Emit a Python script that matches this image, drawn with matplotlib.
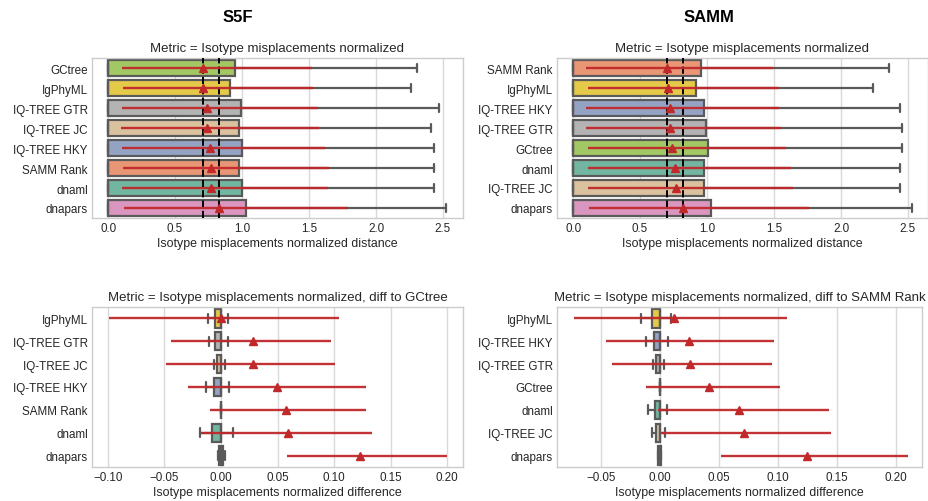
import matplotlib
matplotlib.use("Agg")
import matplotlib.pyplot as plt
import seaborn as sns
import numpy as np

sns.set_style("whitegrid")
plt.rcParams['font.family'] = ['Liberation Sans', 'DejaVu Sans']

# ---------------- data ----------------
palette = {
    "GCtree": "#a6d854", "IgPhyML": "#ffd92f", "IQ-TREE GTR": "#b3b3b3",
    "IQ-TREE JC": "#e5c494", "IQ-TREE HKY": "#8da0cb", "SAMM Rank": "#fc8d62",
    "dnaml": "#66c2a5", "dnapars": "#e78ac3",
}

# S5F distance
s5f_methods = ["GCtree", "IgPhyML", "IQ-TREE GTR", "IQ-TREE JC", "IQ-TREE HKY", "SAMM Rank", "dnaml", "dnapars"]
s5f_q1 = [0, 0, 0, 0, 0, 0, 0, 0]
s5f_med = [0, 0, 0, 0, 0, 0, 0, 0]
s5f_q3 = [0.95, 0.91, 0.995, 0.98, 1.0, 0.98, 1.0, 1.03]
s5f_whislo = [0, 0, 0, 0, 0, 0, 0, 0]
s5f_whishi = [2.31, 2.26, 2.47, 2.41, 2.43, 2.43, 2.43, 2.52]
s5f_mean = [0.71, 0.71, 0.74, 0.74, 0.76, 0.77, 0.77, 0.83]
s5f_lo = [0.107, 0.11, 0.107, 0.10, 0.107, 0.11, 0.107, 0.117]
s5f_hi = [1.52, 1.53, 1.57, 1.575, 1.62, 1.65, 1.64, 1.79]

# SAMM distance
samm_methods = ["SAMM Rank", "IgPhyML", "IQ-TREE HKY", "IQ-TREE GTR", "GCtree", "dnaml", "IQ-TREE JC", "dnapars"]
samm_q1 = [0, 0, 0, 0, 0, 0, 0, 0]
samm_med = [0, 0, 0, 0, 0, 0, 0, 0]
samm_q3 = [0.955, 0.92, 0.98, 0.99, 1.005, 0.98, 0.98, 1.03]
samm_whislo = [0, 0, 0, 0, 0, 0, 0, 0]
samm_whishi = [2.36, 2.24, 2.44, 2.455, 2.455, 2.44, 2.44, 2.53]
samm_mean = [0.70, 0.71, 0.72, 0.725, 0.74, 0.76, 0.77, 0.82]
samm_lo = [0.10, 0.11, 0.10, 0.10, 0.11, 0.11, 0.11, 0.12]
samm_hi = [1.49, 1.54, 1.54, 1.55, 1.59, 1.63, 1.64, 1.76]

# S5F difference to GCtree
d1_methods = ["IgPhyML", "IQ-TREE GTR", "IQ-TREE JC", "IQ-TREE HKY", "SAMM Rank", "dnaml", "dnapars"]
d1_q1 = [-0.0053, -0.005, -0.0038, -0.0065, 0.0, -0.008, -0.002]
d1_med = [0, 0, 0, 0, 0, 0, 0]
d1_q3 = [0, 0, 0, 0, 0, 0, 0.0015]
d1_whislo = [-0.0112, -0.011, -0.006, -0.0136, 0.0, -0.0183, -0.0027]
d1_whishi = [0.0062, 0.006, 0.0036, 0.0074, 0.0, 0.0104, 0.0033]
d1_mean = [0.0, 0.0284, 0.0284, 0.0497, 0.0574, 0.0589, 0.1227]
d1_lo = [-0.0993, -0.044, -0.0485, -0.029, -0.0098, -0.018, 0.0582]
d1_hi = [0.1046, 0.097, 0.1008, 0.128, 0.128, 0.1334, 0.1998]

# SAMM difference to SAMM Rank
d2_methods = ["IgPhyML", "IQ-TREE HKY", "IQ-TREE GTR", "GCtree", "dnaml", "IQ-TREE JC", "dnapars"]
d2_q1 = [-0.007, -0.0048, -0.003, 0.0, -0.0042, -0.003, -0.0014]
d2_med = [0, 0, 0, 0, 0, 0, 0]
d2_q3 = [0, 0, 0, 0, 0, 0, 0.0008]
d2_whislo = [-0.016, -0.0119, -0.0056, 0.0, -0.0099, -0.0065, -0.0014]
d2_whishi = [0.0096, 0.0068, 0.0034, 0.0, 0.0056, 0.0042, 0.0008]
d2_mean = [0.0119, 0.0246, 0.0254, 0.0412, 0.067, 0.0709, 0.1243]
d2_lo = [-0.0732, -0.0458, -0.0407, -0.0119, -0.0014, 0.0014, 0.0517]
d2_hi = [0.108, 0.0966, 0.0946, 0.1017, 0.1435, 0.1446, 0.2105]

# ---------------- drawing ----------------
EDGE = "#5a5a5a"
RED = "#c0282a"


def panel(ax, methods, q1, med, q3, wlo, whi, mean, lo, hi, title, xlabel,
          xlim, xticks, dashed=False):
    n = len(methods)
    stats = [dict(q1=q1[i], med=med[i], q3=q3[i], whislo=wlo[i], whishi=whi[i],
                  fliers=[]) for i in range(n)]
    pos = np.arange(n)
    bp = ax.bxp(stats, positions=pos, orientation='horizontal', widths=0.8,
                patch_artist=True, manage_ticks=False, capwidths=0.4,
                boxprops=dict(edgecolor=EDGE, linewidth=1.6),
                whiskerprops=dict(color=EDGE, linewidth=1.6),
                capprops=dict(color=EDGE, linewidth=1.6),
                medianprops=dict(color=EDGE, linewidth=1.6))
    for patch, m in zip(bp['boxes'], methods):
        patch.set_facecolor(sns.desaturate(palette[m], 0.75))
    if dashed:
        for v in (min(mean), max(mean)):
            ax.axvline(v, color='black', linestyle='--', linewidth=1.4, zorder=4)
    for i in range(n):
        ax.plot([lo[i], hi[i]], [pos[i], pos[i]], color=RED, linewidth=1.7,
                alpha=0.95, zorder=5, solid_capstyle='butt')
    ax.plot(mean, pos, linestyle='none', marker='^', color=RED,
            markersize=6, zorder=6)
    ax.set_ylim(n - 0.5, -0.5)
    ax.set_yticks(pos)
    ax.set_yticklabels(methods, fontsize=8.4, color='#262626')
    ax.set_xlim(*xlim)
    ax.set_xticks(xticks)
    ax.set_xticklabels([f"{t:.1f}" for t in xticks], fontsize=8.4, color='#262626')
    ax.grid(axis='y', visible=False)
    ax.grid(axis='x', color='#d9d9d9', linewidth=1)
    ax.set_axisbelow(True)
    ax.set_title(title, fontsize=9.5, color='#262626', pad=5)
    ax.set_xlabel(xlabel, fontsize=8.9, color='#262626', labelpad=2)
    ax.tick_params(axis='both', length=0, pad=3)
    for s in ax.spines.values():
        s.set_color('#cccccc')
        s.set_linewidth(1)


fig = plt.figure(figsize=(9.29, 5.02), dpi=100)
W, H = 929, 502


def box(l, r, t, b):
    return [l / W, 1 - b / H, (r - l) / W, (b - t) / H]


ax1 = fig.add_axes(box(92, 463, 59, 219))
ax2 = fig.add_axes(box(557, 928, 59, 219))
ax3 = fig.add_axes(box(92, 463, 308, 468))
ax4 = fig.add_axes(box(557, 922, 308, 468))

top_title = "Metric = Isotype misplacements normalized"
panel(ax1, s5f_methods, s5f_q1, s5f_med, s5f_q3, s5f_whislo, s5f_whishi,
      s5f_mean, s5f_lo, s5f_hi, top_title,
      "Isotype misplacements normalized distance", (-0.12, 2.65),
      [0.0, 0.5, 1.0, 1.5, 2.0, 2.5], dashed=True)
panel(ax2, samm_methods, samm_q1, samm_med, samm_q3, samm_whislo, samm_whishi,
      samm_mean, samm_lo, samm_hi, top_title,
      "Isotype misplacements normalized distance", (-0.12, 2.65),
      [0.0, 0.5, 1.0, 1.5, 2.0, 2.5], dashed=True)
panel(ax3, d1_methods, d1_q1, d1_med, d1_q3, d1_whislo, d1_whishi,
      d1_mean, d1_lo, d1_hi, "Metric = Isotype misplacements normalized, diff to GCtree",
      "Isotype misplacements normalized difference", (-0.114, 0.214),
      [-0.10, -0.05, 0.0, 0.05, 0.10, 0.15, 0.20])
panel(ax4, d2_methods, d2_q1, d2_med, d2_q3, d2_whislo, d2_whishi,
      d2_mean, d2_lo, d2_hi, "Metric = Isotype misplacements normalized, diff to SAMM Rank",
      "Isotype misplacements normalized difference", (-0.0873, 0.222),
      [-0.05, 0.0, 0.05, 0.10, 0.15, 0.20])

for a in (ax3, ax4):
    a.set_xticklabels([("\u22120.%02d" % round(abs(t) * 100)) if t < 0 else f"{t:.2f}"
                       for t in a.get_xticks()], fontsize=8.4, color='#262626')

fig.text(238 / W, 1 - 18 / H, "S5F", fontsize=12, fontweight='bold',
         ha='center', va='center', color='black')
fig.text(709 / W, 1 - 18 / H, "SAMM", fontsize=12, fontweight='bold',
         ha='center', va='center', color='black')

fig.savefig("out.png", dpi=100)
